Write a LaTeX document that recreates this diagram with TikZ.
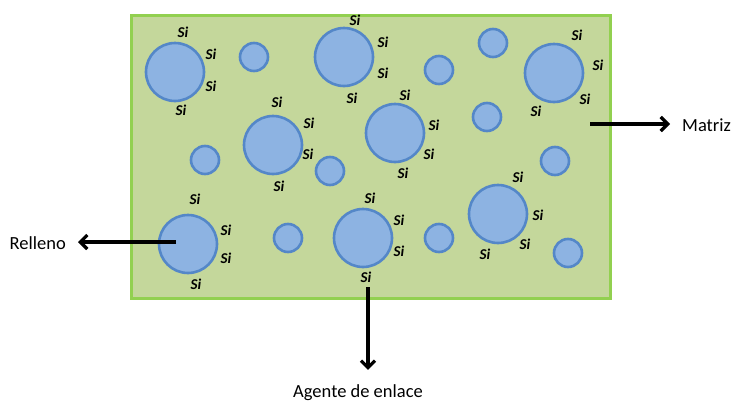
\documentclass[tikz,border=0pt]{standalone}
\usepackage{fontspec}
\setmainfont{Carlito}
\usetikzlibrary{arrows.meta}
\definecolor{matrixfill}{RGB}{196,215,155}
\definecolor{matrixedge}{RGB}{146,208,80}
\definecolor{particlefill}{RGB}{141,179,226}
\definecolor{particleedge}{RGB}{84,135,200}
\tikzset{
  matrixbox/.style={draw=matrixedge, fill=matrixfill, line width=3pt},
  bigp/.style={circle, draw=particleedge, fill=particlefill, line width=2.6pt, minimum size=58pt, inner sep=0pt},
  smallp/.style={circle, draw=particleedge, fill=particlefill, line width=2.6pt, minimum size=28pt, inner sep=0pt},
  si/.style={font=\fontsize{15}{17}\selectfont\bfseries\itshape, inner sep=0pt},
  lbl/.style={font=\fontsize{18.5}{20}\selectfont, inner sep=0pt},
  arr/.style={line width=3.2pt, -{Straight Barb[length=7pt,width=14pt]}}
}
\begin{document}
\begin{tikzpicture}[x=1pt, y=-1pt]
\useasboundingbox (0,0) rectangle (732,402);
% composite matrix
\node[matrixbox, minimum width=479pt, minimum height=283pt, anchor=north west, inner sep=0pt] (mat) at (129.5,13.5) {};
% large filler particles
\node[bigp] (c1) at (175,72) {};
\node[bigp] (c3) at (344,57) {};
\node[bigp] (c6) at (554,73) {};
\node[bigp] (c7) at (273,145) {};
\node[bigp] (c8) at (395,133) {};
\node[bigp] (c13) at (188,244) {};
\node[bigp] (c15) at (363,238) {};
\node[bigp] (c17) at (498,214) {};
% small filler particles
\node[smallp] (c2) at (254,57) {};
\node[smallp] (c4) at (439,70) {};
\node[smallp] (c5) at (493,43) {};
\node[smallp] (c9) at (487,117) {};
\node[smallp] (c10) at (205,160) {};
\node[smallp] (c11) at (330,171) {};
\node[smallp] (c12) at (555,161) {};
\node[smallp] (c14) at (288,238) {};
\node[smallp] (c16) at (439,238) {};
\node[smallp] (c18) at (568,253) {};
% silane groups on the particle surfaces
\node[si] (s1a) at (183,32) {Si};
\node[si] (s1b) at (211,54) {Si};
\node[si] (s1c) at (211,86) {Si};
\node[si] (s1d) at (181,110) {Si};
\node[si] (s3a) at (355,20) {Si};
\node[si] (s3b) at (383,42) {Si};
\node[si] (s3c) at (383,73) {Si};
\node[si] (s3d) at (352,98) {Si};
\node[si] (s6a) at (577,35) {Si};
\node[si] (s6b) at (598,65) {Si};
\node[si] (s6c) at (585,99) {Si};
\node[si] (s6d) at (536,111) {Si};
\node[si] (s7a) at (277,102) {Si};
\node[si] (s7b) at (309,123) {Si};
\node[si] (s7c) at (308,154) {Si};
\node[si] (s7d) at (279,186) {Si};
\node[si] (s8a) at (405,95) {Si};
\node[si] (s8b) at (434,125) {Si};
\node[si] (s8c) at (429,154) {Si};
\node[si] (s8d) at (403,173) {Si};
\node[si] (s13a) at (195,199) {Si};
\node[si] (s13b) at (226,230) {Si};
\node[si] (s13c) at (226,258) {Si};
\node[si] (s13d) at (196,284) {Si};
\node[si] (s15a) at (370,198) {Si};
\node[si] (s15b) at (399,220) {Si};
\node[si] (s15c) at (399,251) {Si};
\node[si] (s15d) at (366,277) {Si};
\node[si] (s17a) at (518,177) {Si};
\node[si] (s17b) at (538,215) {Si};
\node[si] (s17c) at (525,244) {Si};
\node[si] (s17d) at (485,254) {Si};
% labels
\node[lbl, anchor=west] (matriz) at (682,125) {Matriz};
\node[lbl, anchor=east] (relleno) at (66,243) {Relleno};
\node[lbl, anchor=base] (agente) at (358,397) {Agente de enlace};
% pointers
\coordinate (mfrom) at (590,124);
\coordinate (rfrom) at (176,242);
\coordinate (afrom) at (368,287);
\draw[arr] (mfrom) -- ([xshift=-12pt]matriz.west |- mfrom);
\draw[arr] (rfrom) -- ([xshift=12pt]relleno.east |- rfrom);
\draw[arr] (afrom) -- ([yshift=14pt]afrom |- agente.north);
\end{tikzpicture}
\end{document}
